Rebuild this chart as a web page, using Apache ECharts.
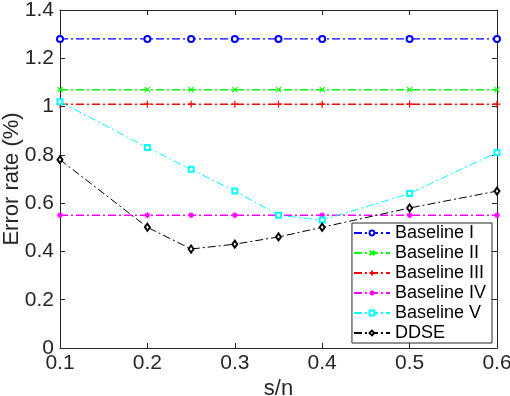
<!DOCTYPE html>
<html>
<head>
<meta charset="utf-8">
<script src="https://cdn.jsdelivr.net/npm/echarts@6/dist/echarts.min.js"></script>
<style>
  html, body { margin: 0; padding: 0; background: #fff; }
  #chart { width: 510px; height: 396px; }
</style>
</head>
<body>
<div id="chart"></div>
<script>
// s/n values
var xs = [0.1, 0.2, 0.25, 0.3, 0.35, 0.4, 0.5, 0.6];
var baseline1 = [1.28, 1.28, 1.28, 1.28, 1.28, 1.28, 1.28, 1.28];
var baseline2 = [1.07, 1.07, 1.07, 1.07, 1.07, 1.07, 1.07, 1.07];
var baseline3 = [1.01, 1.01, 1.01, 1.01, 1.01, 1.01, 1.01, 1.01];
var baseline4 = [0.55, 0.55, 0.55, 0.55, 0.55, 0.55, 0.55, 0.55];
var baseline5 = [1.02, 0.83, 0.74, 0.65, 0.55, 0.53, 0.64, 0.81];
var ddse = [0.78, 0.50, 0.41, 0.43, 0.46, 0.50, 0.58, 0.65];
var names = ['Baseline I', 'Baseline II', 'Baseline III', 'Baseline IV', 'Baseline V', 'DDSE'];

var font = 'Liberation Sans, Arial, sans-serif';
var dashDot = [8, 3, 2, 3];
var axisColor = '#262626';

function pairs(ys) {
  return xs.map(function (x, i) { return [x, ys[i]]; });
}

// marker shapes drawn as strokes
var xMark = 'path://M0,0L10,10M10,0L0,10';
var plusMark = 'path://M5,0L5,10M0,5L10,5';
var starMark = 'path://M5,0L5,10M0,5L10,5M1.5,1.5L8.5,8.5M8.5,1.5L1.5,8.5';

function makeSeries(name, ys, color, symbol, size, width) {
  var isPath = symbol.indexOf('path') === 0;
  return {
    name: name,
    type: 'line',
    data: pairs(ys),
    symbol: symbol,
    symbolSize: size,
    showAllSymbol: true,
    lineStyle: { color: color, width: width, type: dashDot },
    itemStyle: isPath
      ? { color: color, borderColor: color, borderWidth: 1.2 }
      : { color: color, borderWidth: 1 },
    emphasis: { disabled: true },
    animation: false
  };
}

var myChart = echarts.init(document.getElementById('chart'));
var option = {
  backgroundColor: '#fff',
  textStyle: { fontFamily: font },
  grid: { left: 60, right: 13, top: 10, bottom: 48, outerBoundsMode: 'none', containLabel: false },
  legend: {
    orient: 'vertical',
    right: 18,
    bottom: 53,
    data: names,
    itemWidth: 36,
    itemHeight: 6,
    itemGap: 2,
    padding: [1, 6, 1, 1],
    backgroundColor: '#fff',
    borderColor: axisColor,
    borderWidth: 1,
    borderRadius: 0,
    textStyle: { fontFamily: font, fontSize: 18, color: '#000' }
  },
  xAxis: [{
    type: 'value',
    min: 0.1,
    max: 0.6,
    interval: 0.1,
    name: 's/n',
    nameLocation: 'middle',
    nameGap: 30,
    nameMoveOverlap: false,
    nameTextStyle: { fontFamily: font, fontSize: 22, color: axisColor },
    axisLine: { lineStyle: { color: axisColor } },
    axisTick: { inside: true, length: 5, lineStyle: { color: axisColor } },
    axisLabel: { fontFamily: font, fontSize: 21, color: axisColor, margin: 5,
      formatter: function (v) { return v.toFixed(1); } },
    splitLine: { show: false }
  }, {
    type: 'value',
    position: 'top',
    min: 0.1,
    max: 0.6,
    interval: 0.1,
    axisLine: { show: true, onZero: false, lineStyle: { color: axisColor } },
    axisTick: { inside: true, length: 5, lineStyle: { color: axisColor } },
    axisLabel: { show: false },
    splitLine: { show: false }
  }],
  yAxis: [{
    type: 'value',
    min: 0,
    max: 1.4,
    interval: 0.2,
    name: 'Error rate (%)',
    nameLocation: 'middle',
    nameGap: 37,
    nameMoveOverlap: false,
    nameTextStyle: { fontFamily: font, fontSize: 22, color: axisColor },
    axisLine: { show: true, lineStyle: { color: axisColor } },
    axisTick: { show: true, inside: true, length: 5, lineStyle: { color: axisColor } },
    axisLabel: { fontFamily: font, fontSize: 21, color: axisColor, margin: 6,
      formatter: function (v) { return v === 0 || v === 1 ? String(v) : v.toFixed(1); } },
    splitLine: { show: false }
  }, {
    type: 'value',
    position: 'right',
    min: 0,
    max: 1.4,
    interval: 0.2,
    axisLine: { show: true, onZero: false, lineStyle: { color: axisColor } },
    axisTick: { show: true, inside: true, length: 5, lineStyle: { color: axisColor } },
    axisLabel: { show: false },
    splitLine: { show: false }
  }],
  series: [
    makeSeries('Baseline I', baseline1, '#0000ff', 'emptyCircle', 6, 1.2),
    makeSeries('Baseline II', baseline2, '#00ff00', xMark, 5, 1.5),
    makeSeries('Baseline III', baseline3, '#ff0000', plusMark, 7, 1.5),
    makeSeries('Baseline IV', baseline4, '#ff00ff', starMark, 6, 1.5),
    makeSeries('Baseline V', baseline5, '#00ffff', 'emptyRect', 5, 1),
    makeSeries('DDSE', ddse, '#000000', 'emptyDiamond', [5, 7], 1)
  ]
};
myChart.setOption(option);
</script>
</body>
</html>
